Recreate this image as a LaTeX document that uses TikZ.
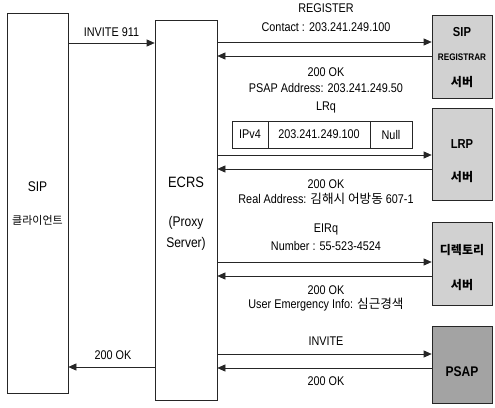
\documentclass[tikz,border=0pt]{standalone}
\usepackage{fontspec}
\setmainfont{Liberation Sans}[FakeStretch=0.86]
\newfontfamily\kr{Noto Sans CJK KR}
\usetikzlibrary{arrows.meta}
\begin{document}
\begin{tikzpicture}[x=1pt,y=-1pt,
  box/.style={draw=black!85,line width=0.7pt,inner sep=0pt},
  srv/.style={box,fill=black!18},
  dsrv/.style={box,fill=black!36},
  arr/.style={draw=black!85,line width=0.7pt,-{Triangle[length=8pt,width=7pt]}},
  lbl/.style={font=\fontsize{12.6}{14}\selectfont,inner sep=0pt},
  big/.style={font=\fontsize{14}{16}\selectfont,inner sep=0pt},
  cell/.style={draw=black!85,line width=0.7pt,minimum height=27pt,inner sep=0pt,font=\fontsize{12.6}{14}\selectfont}
]
\useasboundingbox (0,0) rectangle (495,407);
\fill[white] (0,0) rectangle (495,407);
% boxes
\node[box,minimum width=61pt,minimum height=380pt] (cl) at (37.5,203) {};
\node[box,minimum width=62pt,minimum height=380pt] (ecrs) at (186,210) {};
\node[srv,minimum width=60pt,minimum height=83pt] (reg) at (462,56.5) {};
\node[srv,minimum width=60pt,minimum height=92pt] (lrp) at (462,154) {};
\node[srv,minimum width=60pt,minimum height=83pt] (dir) at (462,263.5) {};
\node[dsrv,minimum width=60pt,minimum height=77pt] (psap) at (462,364.5) {};
% box texts
\node[big] (t1) at (37.5,187) {SIP};
\node[inner sep=0pt,font=\kr\fontsize{11}{13}\selectfont] (t2) at (37.5,220) {클라이언트};
\node[big,font=\fontsize{15}{17}\selectfont] (t3) at (186,182) {ECRS};
\node[big,align=center,font=\fontsize{14}{21}\selectfont] (t4) at (186,233) {(Proxy\\Server)};
\node[big,font=\bfseries\fontsize{13}{15}\selectfont] (t5) at (462,32) {SIP};
\node[inner sep=0pt,font=\bfseries\fontsize{9.5}{11}\selectfont] (t6) at (462,57) {REGISTRAR};
\node[inner sep=0pt,font=\kr\bfseries\fontsize{12}{14}\selectfont] (t7) at (462,82) {서버};
\node[big,font=\bfseries\fontsize{13}{15}\selectfont] (t8) at (462,144) {LRP};
\node[inner sep=0pt,font=\kr\bfseries\fontsize{12}{14}\selectfont] (t9) at (462,177) {서버};
\node[inner sep=0pt,font=\kr\bfseries\fontsize{12}{14}\selectfont] (t10) at (462,250) {디렉토리};
\node[inner sep=0pt,font=\kr\bfseries\fontsize{12}{14}\selectfont] (t11) at (462,285) {서버};
\node[big,font=\bfseries\fontsize{14}{16}\selectfont] (t12) at (462,372) {PSAP};
% INVITE 911
\draw[arr] (cl.east |- 0,43) -- (ecrs.west |- 0,43);
\node[lbl] (l1) at (111.5,32) {INVITE 911};
% REGISTER
\draw[arr] (ecrs.east |- 0,42) -- (reg.west |- 0,42);
\node[lbl] (l2) at (326,8) {REGISTER};
\node[lbl] (l3) at (326,27) {Contact : 203.241.249.100};
\draw[arr] (reg.west |- 0,56) -- (ecrs.east |- 0,56);
\node[lbl] (l4) at (326,72) {200 OK};
\node[lbl] (l5) at (326,88) {PSAP Address: 203.241.249.50};
% LRq
\node[lbl] (l6) at (326,107) {LRq};
\node[cell,minimum width=36pt] (c1) at (250,134.5) {IPv4};
\node[cell,minimum width=102pt] (c2) at (319,134.5) {203.241.249.100};
\node[cell,minimum width=42pt] (c3) at (391,134.5) {Null};
\draw[arr] (ecrs.east |- 0,155) -- (lrp.west |- 0,155);
\draw[arr] (lrp.west |- 0,169) -- (ecrs.east |- 0,169);
\node[lbl] (l7) at (326,184) {200 OK};
\node[lbl] (l8) at (326,199) {Real Address: {\kr 김해시 어방동} 607-1};
% EIRq
\node[lbl] (l9) at (326,229) {EIRq};
\node[lbl] (l10) at (326,246) {Number : 55-523-4524};
\draw[arr] (ecrs.east |- 0,262) -- (dir.west |- 0,262);
\draw[arr] (dir.west |- 0,276) -- (ecrs.east |- 0,276);
\node[lbl] (l11) at (326,290) {200 OK};
\node[lbl] (l12) at (326,305) {User Emergency Info: {\kr 심근경색}};
% INVITE
\node[lbl] (l13) at (326,341) {INVITE};
\draw[arr] (ecrs.east |- 0,354) -- (psap.west |- 0,354);
\draw[arr] (psap.west |- 0,368) -- (ecrs.east |- 0,368);
\node[lbl] (l14) at (326,381) {200 OK};
% 200 OK to client
\node[lbl] (l15) at (113,355) {200 OK};
\draw[arr] (ecrs.west |- 0,367) -- (cl.east |- 0,367);
\end{tikzpicture}
\end{document}
